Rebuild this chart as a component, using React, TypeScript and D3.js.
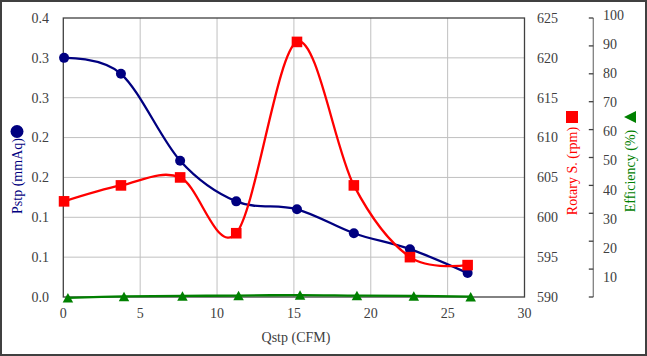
import React from "react";
import * as d3 from "d3";

const W = 647;
const H = 356;

// Data
const qBlueRed = [0.05, 3.75, 7.6, 11.25, 15.2, 18.9, 22.55, 26.3];
const pstp = [0.3, 0.28, 0.171, 0.12, 0.11, 0.08, 0.06, 0.03];
const rotary = [602, 604, 605, 598, 622, 604, 595, 594];
const qEff = [0.3, 3.95, 7.75, 11.4, 15.4, 19.1, 22.8, 26.5];
const efficiency = [-0.3, 0.2, 0.4, 0.5, 0.7, 0.5, 0.4, 0.1];

const xTicks = [0, 5, 10, 15, 20, 25, 30];
const leftTicks = [0, 0.05, 0.1, 0.15, 0.2, 0.25, 0.3, 0.35];
const leftTickLabels = ["0.0", "0.1", "0.1", "0.2", "0.2", "0.3", "0.3", "0.4"];
const rotTicks = [590, 595, 600, 605, 610, 615, 620, 625];
const effTicks = [0, 10, 20, 30, 40, 50, 60, 70, 80, 90, 100];
const effLabels = [10, 20, 30, 40, 50, 60, 70, 80, 90, 100];

const FONT = '"Liberation Serif", "Times New Roman", Times, "DejaVu Serif", serif';
const AXIS = "#404040";
const GRID = "#c0c0c0";
const LABEL = "#404040";
const NAVY = "#000080";
const RED = "#ff0000";
const GREEN = "#008000";

const T = (props: any) => (
  <text {...props} style={{ fontFamily: FONT, fontSize: 14 }} />
);

export default function App() {
  const left = 63.3;
  const right = 524.5;
  const top = 18;
  const bottom = 297;

  const x = d3.scaleLinear().domain([0, 30]).range([left, right]);
  const yL = d3.scaleLinear().domain([0, 0.35]).range([bottom, top]);
  const yR = d3.scaleLinear().domain([590, 625]).range([bottom, top]);
  const yE = d3.scaleLinear().domain([0, 100]).range([bottom, top]);
  const yELabel = d3.scaleLinear().domain([10, 100]).range([277, 15]);
  const effAxisX = 593.3;

  const curve = d3.curveCardinal.tension(0);
  const blueLine = d3
    .line<number>()
    .x((_, i) => x(qBlueRed[i]))
    .y((d) => yL(d))
    .curve(curve)(pstp);
  const redLine = d3
    .line<number>()
    .x((_, i) => x(qBlueRed[i]))
    .y((d) => yR(d))
    .curve(curve)(rotary);
  const greenLine = d3
    .line<number>()
    .x((_, i) => x(qEff[i]))
    .y((d) => yE(d))
    .curve(curve)(efficiency);

  const tri = (cx: number, cy: number, w: number, h: number) =>
    `M${cx},${cy - h / 2}L${cx + w / 2},${cy + h / 2}L${cx - w / 2},${cy + h / 2}Z`;

  return (
    <svg
      width={W}
      height={H}
      style={{ position: "absolute", left: 0, top: 0, background: "#fff", fontFamily: FONT }}
    >
      <rect x={1} y={1} width={W - 2} height={H - 2} fill="#fff" stroke={AXIS} strokeWidth={2} />

      {/* grid */}
      {xTicks.slice(1, -1).map((t) => (
        <line key={"gx" + t} x1={x(t)} x2={x(t)} y1={top} y2={bottom} stroke={GRID} strokeWidth={1} />
      ))}
      {leftTicks.slice(1, -1).map((t) => (
        <line key={"gy" + t} x1={left} x2={right} y1={yL(t)} y2={yL(t)} stroke={GRID} strokeWidth={1} />
      ))}

      {/* plot border */}
      <rect x={left} y={top} width={right - left} height={bottom - top} fill="none" stroke={AXIS} strokeWidth={1.3} />

      {/* left tick labels */}
      {leftTicks.map((t, i) => (
        <T key={"lt" + t} x={49} y={yL(t)} dy="0.35em" textAnchor="end" fill={LABEL}>
          {leftTickLabels[i]}
        </T>
      ))}
      {/* x tick labels */}
      {xTicks.map((t) => (
        <T key={"xt" + t} x={x(t)} y={318} textAnchor="middle" fill={LABEL}>
          {t}
        </T>
      ))}
      {/* rotary tick labels */}
      {rotTicks.map((t) => (
        <T key={"rt" + t} x={537} y={yR(t)} dy="0.35em" textAnchor="start" fill={LABEL}>
          {t}
        </T>
      ))}

      {/* efficiency axis */}
      <line x1={effAxisX} x2={effAxisX} y1={top} y2={bottom} stroke="#808080" strokeWidth={1.3} />
      {effTicks.map((t) => (
        <line key={"et" + t} x1={effAxisX - 4.5} x2={effAxisX} y1={yE(t)} y2={yE(t)} stroke={AXIS} strokeWidth={1.3} />
      ))}
      {effLabels.map((t) => (
        <T key={"el" + t} x={603} y={yELabel(t)} dy="0.35em" textAnchor="start" fill={LABEL}>
          {t}
        </T>
      ))}

      {/* axis titles */}
      <T x={296} y={342} textAnchor="middle" fill={LABEL}>
        Qstp (CFM)
      </T>
      <T transform="translate(17,176) rotate(-90)" dy="0.35em" textAnchor="middle" fill={NAVY}>
        Pstp (mmAq)
      </T>
      <circle cx={17} cy={131.5} r={6.5} fill={NAVY} />
      <T transform="translate(572,171) rotate(-90)" dy="0.35em" textAnchor="middle" fill={RED}>
        Rotary S. (rpm)
      </T>
      <rect x={566} y={111} width={12} height={12} fill={RED} />
      <T transform="translate(630,171) rotate(-90)" dy="0.35em" textAnchor="middle" fill={GREEN}>
        Efficiency (%)
      </T>
      <path d={`M624,117L636,111L636,123Z`} fill={GREEN} />

      {/* series */}
      <path d={blueLine || ""} fill="none" stroke={NAVY} strokeWidth={2.3} />
      {pstp.map((v, i) => (
        <circle key={"bc" + i} cx={x(qBlueRed[i])} cy={yL(v)} r={5} fill={NAVY} />
      ))}
      <path d={redLine || ""} fill="none" stroke={RED} strokeWidth={2.3} />
      {rotary.map((v, i) => (
        <rect key={"rs" + i} x={x(qBlueRed[i]) - 5.3} y={yR(v) - 5.3} width={10.6} height={10.6} fill={RED} />
      ))}
      <path d={greenLine || ""} fill="none" stroke={GREEN} strokeWidth={2.3} />
      {efficiency.map((v, i) => (
        <path key={"gt" + i} d={tri(x(qEff[i]), yE(v), 10.5, 9.5)} fill={GREEN} />
      ))}
    </svg>
  );
}
